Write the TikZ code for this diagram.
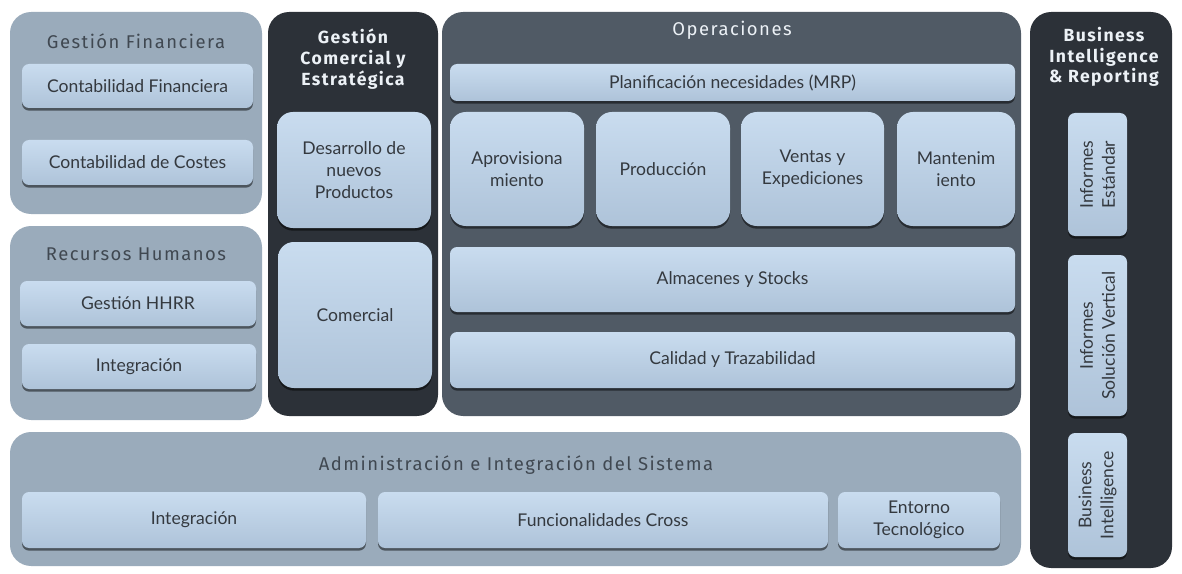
\documentclass[tikz,border=0pt]{standalone}
\usepackage{fontspec}
\setmainfont{Lato}
\newfontfamily\titlefont[LetterSpace=8]{Fira Sans}
\usetikzlibrary{shadows, fit, positioning}

\definecolor{panellight}{RGB}{154,171,187}
\definecolor{paneldark}{RGB}{44,49,56}
\definecolor{panelops}{RGB}{80,90,101}
\definecolor{boxtop}{RGB}{201,220,239}
\definecolor{boxbottom}{RGB}{174,195,217}
\definecolor{textdark}{RGB}{52,57,63}
\definecolor{titledark}{RGB}{64,72,81}
\definecolor{titlelight}{RGB}{236,241,246}

\begin{document}
\begin{tikzpicture}[
        x=0.02cm, y=-0.02cm,
        panel/.style={inner sep=0pt, rounded corners=12pt},
        lightpanel/.style={panel, fill=panellight},
        darkpanel/.style={panel, fill=paneldark},
        opspanel/.style={panel, fill=panelops},
        ltitle/.style={font=\titlefont\fontsize{10.5}{12}\selectfont, text=titledark},
        dtitle/.style={font=\titlefont\bfseries\fontsize{10}{11.8}\selectfont, text=titlelight, align=center},
        box/.style={inner sep=0pt, rounded corners=4pt, top color=boxtop, bottom color=boxbottom,
          drop shadow={shadow xshift=0pt, shadow yshift=-1.5pt, fill=black, opacity=0.5}},
        tallbox/.style={box, rounded corners=9pt},
        boxtext/.style={font=\fontsize{10}{12.5}\selectfont, text=textdark, align=center},
        txt/.style={label={[boxtext]center:{#1}}},
        vtxt/.style={label={[boxtext, rotate=90]center:{#1}}}
        ]
        \useasboundingbox (0,0) rectangle (1182,574);

        % left column
        \node[lightpanel, fit={(10,12) (262,214)}]  (gf) {};
        \node[ltitle] (gf_t) at (136,41) {Gestión Financiera};
        \node[box, fit={(22,64) (253,108)}, txt={Contabilidad Financiera}]  (gf_1) {};
        \node[box, fit={(22,140) (253,185)}, txt={Contabilidad de Costes}]  (gf_2) {};

        \node[lightpanel, fit={(10,226) (262,420)}] (rh) {};
        \node[ltitle] (rh_t) at (136,254) {Recursos Humanos};
        \node[box, fit={(20,281) (256,326)}, txt={Gestión HHRR}] (rh_1) {};
        \node[box, fit={(22,344) (256,389)}, txt={Integración}]  (rh_2) {};

        % gestion comercial
        \node[darkpanel, fit={(268,12) (438,416)}] (gc) {};
        \node[dtitle] (gc_t) at (353,59) {Gestión\\Comercial y\\Estratégica};
        \node[tallbox, fit={(277,112) (431,228)}, txt={Desarrollo de\\nuevos\\Productos}] (gc_1) {};
        \node[tallbox, fit={(278,242) (432,388)}, txt={Comercial}] (gc_2) {};

        % operaciones
        \node[opspanel, fit={(442,12) (1021,416)}] (op) {};
        \node[ltitle, text=titlelight] (op_t) at (732,30) {Operaciones};
        \node[box, fit={(450,64) (1015,101)}, txt={Planificación necesidades (MRP)}] (op_0) {};
        \node[tallbox, fit={(450,112) (584,226)}, txt={Aprovisiona\\miento}] (op_1) {};
        \node[tallbox, fit={(596,112) (730,226)}, txt={Producción}] (op_2) {};
        \node[tallbox, fit={(741,112) (884,226)}, txt={Ventas y\\Expediciones}] (op_3) {};
        \node[tallbox, fit={(897,112) (1015,226)}, txt={Mantenim\\iento}] (op_4) {};
        \node[box, fit={(450,247) (1015,312)}, txt={Almacenes y Stocks}] (op_5) {};
        \node[box, fit={(450,332) (1015,388)}, txt={Calidad y Trazabilidad}] (op_6) {};

        % business intelligence
        \node[darkpanel, fit={(1030,12) (1172,568)}] (bi) {};
        \node[dtitle] (bi_t) at (1104,57) {Business\\Intelligence\\\& Reporting};
        \node[box, fit={(1068,113) (1127,236)}, vtxt={Informes\\Estándar}] (bi_1) {};
        \node[box, fit={(1068,255) (1127,416)}, vtxt={Informes\\Solución Vertical}] (bi_2) {};
        \node[box, fit={(1068,433) (1127,557)}, vtxt={Business\\Intelligence}] (bi_3) {};

        % administracion
        \node[lightpanel, fit={(10,432) (1021,566)}] (ad) {};
        \node[ltitle, font=\titlefont\fontsize{10.5}{12}\selectfont] (ad_t) at (516,465) {Administración e Integración del Sistema};
        \node[box, fit={(22,492) (366,548)}, txt={Integración}]  (ad_1) {};
        \node[box, fit={(378,492) (828,548)}, txt={Funcionalidades Cross}] (ad_2) {};
        \node[box, fit={(838,492) (1000,548)}, txt={Entorno\\Tecnológico}] (ad_3) {};
      \end{tikzpicture}
\end{document}
